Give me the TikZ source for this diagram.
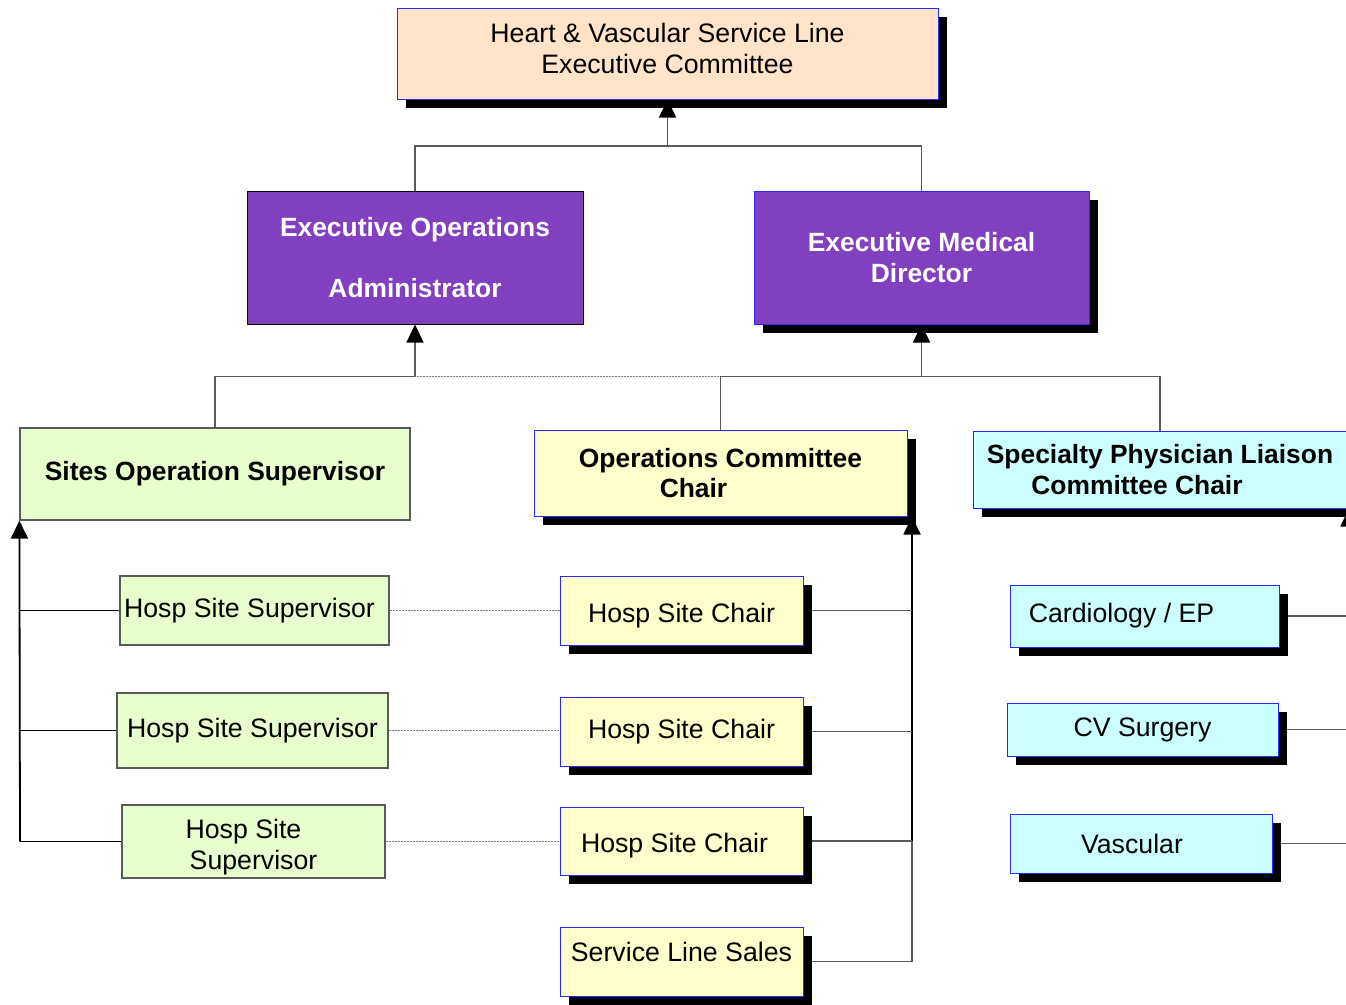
\documentclass[tikz,border=0pt]{standalone}
\usepackage{fontspec}
\setmainfont{Liberation Sans}
\usetikzlibrary{arrows.meta,shadows}

\definecolor{hvpeach}{RGB}{255,228,202}
\definecolor{expurple}{RGB}{128,64,192}
\definecolor{sitegreen}{RGB}{230,255,204}
\definecolor{chairyellow}{RGB}{255,255,204}
\definecolor{speccyan}{RGB}{204,255,255}
\definecolor{edgeblue}{RGB}{40,40,255}
\definecolor{linegray}{RGB}{90,90,90}

\pgfdeclarelayer{back}
\pgfsetlayers{back,main}

\begin{document}
\begin{tikzpicture}[x=1bp, y=-1bp, >={Triangle[length=18bp,width=17bp,color=black]},
  every node/.style={font=\fontsize{26.8}{31}\selectfont, inner sep=0pt, align=center},
  box/.style={rectangle, line width=1bp},
  bold/.style={font=\fontsize{26.5}{31}\selectfont\bfseries},
  shade/.style={drop shadow={shadow xshift=9bp, shadow yshift=-9bp, fill=black, opacity=1}},
  hvbox/.style={box, shade, draw=edgeblue, fill=hvpeach},
  exbox/.style={box, bold, draw=black, fill=expurple, text=white},
  sitebox/.style={box, draw=linegray, line width=1.2bp, fill=sitegreen},
  chairbox/.style={box, shade, draw=edgeblue, fill=chairyellow},
  specbox/.style={box, shade, draw=edgeblue, fill=speccyan},
  conn/.style={draw=linegray, line width=1.5bp},
  bus/.style={draw=black, line width=1.8bp},
  fine/.style={draw=gray, line width=1bp, dash pattern=on 1bp off 0.5bp}]
%%
  \useasboundingbox (0,0) rectangle (1346,1004);
  \clip (0,0) rectangle (1346,1004);
  \node (hv) at (667.5,53.5) [hvbox, minimum width=541bp, minimum height=91bp] {Heart \& Vascular Service Line\\Executive Committee\\[-21bp]};
  \node (eoa) at (415,257.5) [exbox, minimum width=336bp, minimum height=133bp] {Executive Operations\\[30bp]Administrator};
  \node (emd) at (921.5,257.5) [exbox, shade, draw=edgeblue, minimum width=335bp, minimum height=133bp] {Executive Medical\\Director};
  \node (sos) at (215,474) [sitebox, bold, minimum width=390bp, minimum height=92bp] {Sites Operation Supervisor};
  \node (occ) at (720.5,473) [chairbox, bold, minimum width=373bp, minimum height=86bp] {Operations Committee\\Chair\rule{54bp}{0pt}};
  \node (spl) at (1160,469.5) [specbox, bold, minimum width=374bp, minimum height=77bp] {Specialty Physician Liaison\\Committee Chair\rule{46bp}{0pt}};
  \node (hss1) at (254.5,610.5) [sitebox, minimum width=269bp, minimum height=69bp] {Hosp Site Supervisor\rule{10bp}{0pt}};
  \node (hss2) at (252.5,730.5) [sitebox, minimum width=271bp, minimum height=75bp] {Hosp Site Supervisor};
  \node (hss3) at (253.5,841.5) [sitebox, minimum width=263bp, minimum height=73bp] {\rule{0pt}{31bp}Hosp Site\rule{20bp}{0pt}\\Supervisor};
  \node (hsc1) at (681.5,610.5) [chairbox, minimum width=243bp, minimum height=69bp] {\rule{0pt}{29bp}Hosp Site Chair};
  \node (hsc2) at (681.5,731.5) [chairbox, minimum width=243bp, minimum height=69bp] {Hosp Site Chair};
  \node (hsc3) at (681.5,841) [chairbox, minimum width=243bp, minimum height=68bp] {\rule{0pt}{29bp}Hosp Site Chair\rule{14bp}{0pt}};
  \node (sls) at (681.5,961.5) [chairbox, minimum width=243bp, minimum height=69bp] {Service Line Sales\\[-12bp]};
  \node (cep) at (1144.5,616) [specbox, minimum width=269bp, minimum height=62bp] {Cardiology / EP\rule{46bp}{0pt}};
  \node (cvs) at (1142.5,729.5) [specbox, minimum width=271bp, minimum height=53bp] {CV Surgery};
  \node (vas) at (1141,843.5) [specbox, minimum width=262bp, minimum height=59bp] {Vascular\rule{18bp}{0pt}};
%
  \begin{pgfonlayer}{back}
  \coordinate (t) at (667.5,146);
  \draw[conn] (eoa.north) |- (t) -| (emd.north);
  \draw[conn,->] (t) -- (hv.south);
  \coordinate (m) at (415,376.5);
  \draw[conn] (sos.north) |- (m);
  \draw[conn,->] (m) -- (eoa.south);
  \draw[fine] (m) -- (occ.north |- m);
  \draw[conn] (occ.north) |- (spl.north |- m) -- (spl.north);
  \draw[conn,->] (emd.south |- m) -- (emd.south);
  % sites
  \coordinate (lb) at (20,841.5);
  \draw[bus,->] (lb) -- (sos.south west);
  \foreach \n in {hss1,hss2,hss3}
    \draw[bus] (lb |- \n.west) -- (\n.west);
  \foreach \a/\b in {hss1/hsc1,hss2/hsc2,hss3/hsc3}
    \draw[fine] (\a.east) -- (\a.east -| \b.west);
  % chairs
  \coordinate (rb) at (912,961.5);
  \draw[conn] (sls.east) -- (rb) -- (rb |- hsc3.east);
  \draw[bus,->] (rb |- hsc3.east) -- (rb |- occ.south);
  \foreach \n in {hsc1,hsc2,hsc3}
    \draw[conn] (\n.east) -- (rb |- \n.east);
  % specialties
  \coordinate (sb) at (1349,843.5);
  \draw[bus,->] (sb) -- (sb |- spl.south);
  \foreach \n in {cep,cvs,vas}
    \draw[conn] (\n.east) -- (sb |- \n.east);
  \end{pgfonlayer}
%
\end{tikzpicture}
\end{document}
